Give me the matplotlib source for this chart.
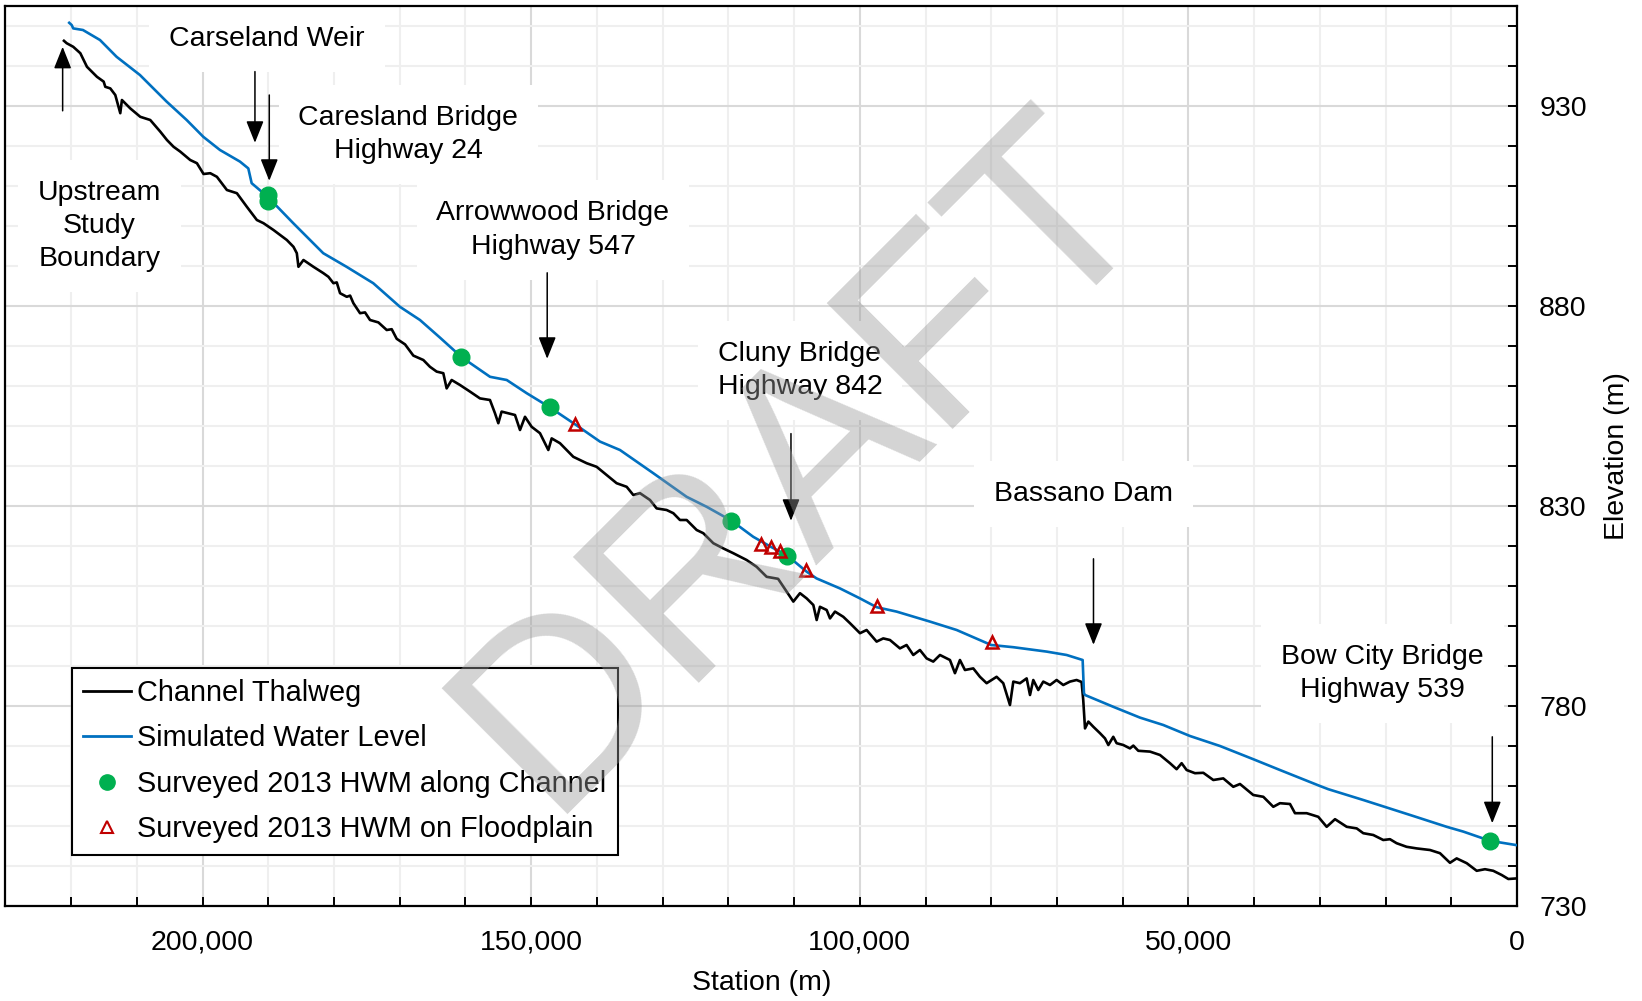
import numpy as np
import matplotlib
matplotlib.use("Agg")
import matplotlib.pyplot as plt
from matplotlib.ticker import MultipleLocator, FixedLocator, FuncFormatter
from matplotlib.lines import Line2D

plt.rcParams["font.family"] = ["Liberation Sans", "DejaVu Sans"]

# ---- Profile data: station (m) and elevation (m) ----
thalweg = [
    (221090, 946.3), (220680, 945.7), (219680, 944.8), (218600, 943.2), (217590, 939.8),
    (216070, 937.3), (215050, 936.1), (214800, 934.8), (214040, 934.4), (213280, 932.75),
    (212520, 928.2), (212270, 931.5), (211000, 929.4), (209480, 927.3), (207960, 926.5),
    (206440, 923.6), (205420, 921.5), (204410, 919.8), (203400, 918.6), (201880, 916.5),
    (200860, 915.7), (199850, 913.0), (198830, 913.2), (197820, 912.3), (196300, 909.0),
    (194780, 908.2), (193260, 904.8), (191740, 901.5), (190730, 900.7), (189210, 899.0),
    (187180, 896.5), (186170, 894.8), (185660, 893.2), (185410, 889.8), (184650, 891.5),
    (183130, 889.8), (181610, 888.2), (180850, 887.3), (180090, 885.7), (179580, 885.9),
    (179080, 883.2), (178060, 882.3), (177550, 882.6), (177050, 880.7), (176040, 878.2),
    (175280, 878.4), (174520, 876.5), (173250, 875.9), (171980, 874.0), (171220, 874.2),
    (170460, 871.8), (169190, 870.4), (167930, 867.6), (166410, 866.5), (165400, 864.8),
    (164380, 863.6), (163370, 863.2),
    (162860, 859.4), (162100, 861.5), (160830, 860.25), (159310, 858.6), (157790, 856.9),
    (156270, 856.5), (155510, 853.2), (155000, 850.7), (154500, 853.6), (152460, 852.75),
    (151700, 849.0), (150940, 852.3), (149930, 849.8), (148660, 848.2), (147390, 844.0),
    (146880, 846.9), (145620, 845.7), (144600, 844.0), (143590, 842.3), (142570, 841.5),
    (141560, 840.7), (140040, 839.8), (138520, 837.75), (137000, 835.7), (135470, 834.8),
    (134460, 832.75), (133440, 833.2), (131920, 831.5), (130910, 829.4), (129390, 829.0),
    (128370, 828.2), (127360, 826.5), (126340, 826.5), (124820, 824.0), (123810, 823.2),
    (122290, 820.7), (120770, 819.4), (119250, 818.2), (117220, 816.5), (115700, 814.8),
    (114170, 812.3), (112430, 811.8), (111130, 808.6), (110110, 806.1), (109100, 808.2),
    (108080, 806.9), (107070, 805.25), (106560, 801.5), (106060, 804.8), (105040, 804.0),
    (104530, 801.9), (103770, 803.6), (102510, 802.3), (101490, 800.7), (99970, 798.2),
    (98960, 799.0), (97440, 796.1), (96430, 796.9), (95410, 796.5), (93890, 794.4),
    (92880, 795.25), (91860, 792.75), (90850, 794.0), (89830, 791.9), (88820, 791.1),
    (87800, 792.75), (86280, 791.5), (85520, 788.2), (84760, 791.5), (84000, 789.0),
    (82730, 789.4), (81720, 787.3), (80700, 785.7), (79180, 787.3), (78170, 785.7),
    (77150, 780.25), (76640, 786.1), (75630, 785.7), (74610, 786.9), (74100, 782.75),
    (73600, 786.5), (72840, 784.0), (72080, 786.1), (71060, 785.25), (70050, 786.5),
    (69040, 785.25), (68020, 786.1), (67010, 786.5), (66250, 786.0), (66000, 781.5),
    (65730, 774.4), (65220, 776.1), (64460, 774.8), (63450, 773.2), (62690, 771.9),
    (62180, 770.25), (61430, 772.3), (60920, 770.7), (59910, 770.25), (58890, 769.4),
    (58380, 770.1), (57620, 768.8), (55840, 768.6), (54320, 767.75), (52800, 765.7),
    (51790, 764.2), (51030, 765.7), (50270, 764.0), (49000, 763.2), (47730, 763.3),
    (46210, 761.5), (44690, 761.9), (43170, 759.8), (42150, 760.5), (40130, 757.75),
    (38600, 757.3), (37080, 754.8), (36070, 755.7), (34540, 755.5), (33780, 753.2),
    (32000, 753.2), (30240, 752.3), (28960, 749.8), (27690, 751.7), (25910, 749.8),
    (24390, 749.4), (23390, 748.2), (21870, 747.75), (20350, 746.5), (19330, 746.7),
    (18320, 745.7), (16800, 744.8), (15280, 744.4), (13240, 744.0), (11720, 743.2),
    (10200, 740.8), (9180, 741.9), (7650, 740.7), (6130, 738.8), (4870, 739.2),
    (3610, 738.8), (2330, 737.75), (1320, 736.75), (0, 736.9),
]

water_level = [
    (220290, 950.8), (219920, 950.25), (219680, 949.4), (218200, 949.0), (215610, 946.5),
    (213080, 942.3), (209530, 937.75), (205470, 931.1), (202420, 926.5), (199890, 922.3),
    (197350, 919.0), (194310, 916.1), (193040, 914.4), (192530, 910.7), (190090, 907.3),
    (186200, 900.7), (181640, 893.2), (178090, 889.8), (174030, 885.7), (169970, 879.8),
    (166920, 876.5), (163880, 872.1), (160580, 867.2), (156260, 862.3), (153720, 861.5),
    (150680, 858.2), (147290, 854.8), (143300, 850.4), (139530, 846.1), (136490, 844.0),
    (131420, 838.2), (126350, 832.3), (123300, 829.8), (119500, 826.3), (116210, 822.3),
    (113480, 819.75), (111140, 817.75), (108100, 813.6), (106580, 811.9), (103020, 809.4),
    (99970, 806.9), (97440, 804.7), (94400, 803.6), (89320, 801.1), (85260, 799.0),
    (80000, 795.25), (76640, 794.7), (71570, 793.6), (68520, 792.75), (66090, 791.5),
    (65890, 783.2), (65730, 782.75), (61430, 779.8), (57370, 777.1), (53820, 775.25),
    (49760, 772.5), (45190, 770.0), (40130, 766.7), (36070, 764.0), (29980, 760.0),
    (28710, 759.2), (23390, 756.5), (15780, 752.5), (10700, 749.8), (8170, 748.6),
    (4110, 746.3), (0, 745.2),
]

hwm_channel_station = [190100, 190000, 160640, 147210, 119550, 111030, 4110]
hwm_channel_elev = [907.8, 906.2, 867.3, 854.8, 826.3, 817.5, 746.3]

hwm_floodplain_station = [143300, 115080, 113480, 112080, 108230, 97410, 79950]
hwm_floodplain_elev = [850.4, 820.6, 819.75, 818.85, 814.0, 805.1, 795.9]

# Structure labels: text, label centre (station, elev), arrow tail, arrow tip
structures = [
    ("Upstream\nStudy\nBoundary", (215690, 900.0), (221290, 928.8), (221290, 944.8)),
    ("Carseland Weir", (190200, 946.7), (192030, 938.6), (192030, 920.8)),
    ("Caresland Bridge\nHighway 24", (168680, 922.9), (189850, 932.75), (189850, 911.3)),
    ("Arrowwood Bridge\nHighway 547", (146680, 899.0), (147560, 888.3), (147560, 866.8)),
    ("Cluny Bridge\nHighway 842", (109100, 863.8), (110470, 848.1), (110470, 826.3)),
    ("Bassano Dam", (65920, 833.0), (64440, 816.8), (64440, 795.3)),
    ("Bow City Bridge\nHighway 539", (20500, 788.2), (3760, 772.3), (3760, 750.7)),
]

elevation_ticks = [730, 780, 830, 880, 930]

legend_labels = [
    "Channel Thalweg",
    "Simulated Water Level",
    "Surveyed 2013 HWM along Channel",
    "Surveyed 2013 HWM on Floodplain",
]

BLUE = "#0070c0"
GREEN = "#00b050"
RED = "#c00000"
FS = 20.5

thal = np.array(thalweg)
wsl = np.array(water_level)

fig = plt.figure(figsize=(16.42, 10.01), dpi=100)
ax = fig.add_axes([5.4 / 1642, 1 - 906 / 1001, 1511.6 / 1642, 900 / 1001])

ax.plot(thal[:, 0], thal[:, 1], color="black", lw=1.9, zorder=3)
ax.plot(wsl[:, 0], wsl[:, 1], color=BLUE, lw=1.9, zorder=3)
ax.plot(hwm_channel_station, hwm_channel_elev, ls="none", marker="o", ms=12,
        mfc=GREEN, mec=GREEN, zorder=4)
ax.plot(hwm_floodplain_station, hwm_floodplain_elev, ls="none", marker="^", ms=9,
        mfc="none", mec=RED, mew=1.8, zorder=5)

for text, (tx, ty), tail, tip in structures:
    ax.text(tx, ty, text, ha="center", va="center", fontsize=FS, linespacing=1.36,
            zorder=2, bbox=dict(boxstyle="square,pad=0.7", fc="white", ec="none"))
    ax.annotate("", xy=tip, xytext=tail, zorder=6,
                arrowprops=dict(arrowstyle="-|>,head_length=0.5,head_width=0.2",
                                mutation_scale=27, lw=1.1, color="black",
                                shrinkA=0, shrinkB=0))

ax.set_xlim(230000, 0)
ax.set_ylim(730, 955)
ax.xaxis.set_major_locator(MultipleLocator(50000))
ax.xaxis.set_minor_locator(MultipleLocator(10000))
ax.yaxis.set_major_locator(FixedLocator(elevation_ticks))
ax.yaxis.set_minor_locator(MultipleLocator(10))
ax.xaxis.set_major_formatter(FuncFormatter(lambda v, p: f"{v:,.0f}"))

ax.yaxis.tick_right()
ax.yaxis.set_label_position("right")
ax.tick_params(axis="both", which="both", direction="in", length=6.5, width=1.4,
               labelsize=FS, left=False, top=False)
ax.tick_params(axis="x", which="major", pad=17)
ax.tick_params(axis="y", which="major", pad=16)

ax.set_axisbelow(True)
ax.grid(which="major", color="#d9d9d9", lw=1.5)
ax.grid(which="minor", color="#efefef", lw=1.5)
for s in ax.spines.values():
    s.set_linewidth(1.6)
    s.set_color("black")

ax.set_xlabel("Station (m)", fontsize=FS, labelpad=10)
ax.set_ylabel("Elevation (m)", fontsize=FS, labelpad=12)

handles = [
    Line2D([], [], color="black", lw=2),
    Line2D([], [], color=BLUE, lw=2),
    Line2D([], [], ls="none", marker="o", ms=11, mfc=GREEN, mec=GREEN),
    Line2D([], [], ls="none", marker="^", ms=8, mfc="none", mec=RED, mew=1.5),
]
leg = ax.legend(handles, legend_labels, loc="lower left", bbox_to_anchor=(0.044, 0.057),
                borderaxespad=0, frameon=True, fancybox=False, edgecolor="black",
                framealpha=1, fontsize=20.8, handlelength=1.65, handletextpad=0.2,
                labelspacing=0.6, borderpad=0.4)
leg.get_frame().set_linewidth(1.5)
leg.set_zorder(7)

# Watermark across the plot
fig.text(0.49, 0.538, "DRAFT", rotation=45, fontsize=186, color="#989898", alpha=0.42,
         ha="center", va="center", zorder=10)

fig.savefig("out.png", dpi=100)
